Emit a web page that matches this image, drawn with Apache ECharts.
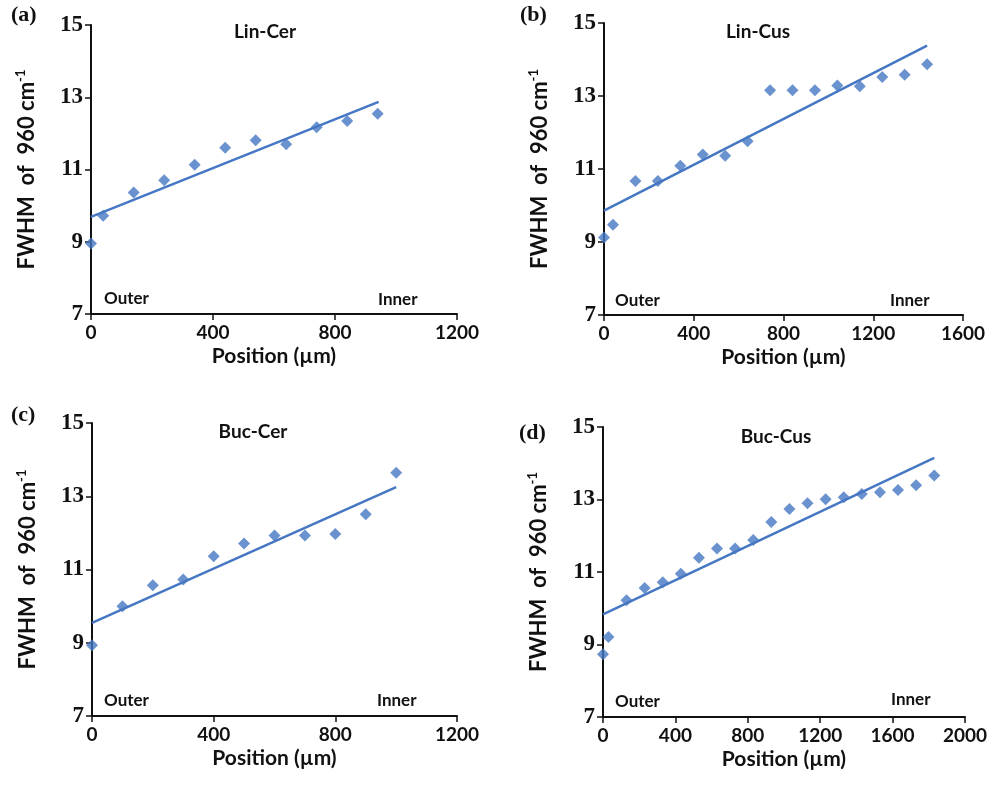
<!DOCTYPE html>
<html>
<head>
<meta charset="utf-8">
<script src="https://cdn.jsdelivr.net/npm/echarts@6/dist/echarts.min.js"></script>
<style>
  html, body { margin: 0; padding: 0; background: #fff; }
  #chart { width: 997px; height: 796px; }
</style>
</head>
<body>
<div id="chart"></div>
<script>
// Panel (a) Lin-Cer
const posA = [0, 40, 140, 240, 340, 440, 540, 640, 740, 840, 940];
const fwhmA = [8.95, 9.72, 10.36, 10.70, 11.13, 11.60, 11.81, 11.70, 12.17, 12.34, 12.54];
const trendPosA = [0, 943];
const trendFwhmA = [9.69, 12.87];

// Panel (b) Lin-Cus
const posB = [0, 40, 140, 240, 340, 440, 540, 640, 740, 840, 940, 1040, 1140, 1240, 1340, 1440];
const fwhmB = [9.12, 9.47, 10.67, 10.67, 11.09, 11.40, 11.36, 11.76, 13.16, 13.16, 13.16, 13.29, 13.27, 13.52, 13.58, 13.87];
const trendPosB = [0, 1440];
const trendFwhmB = [9.86, 14.38];

// Panel (c) Buc-Cer
const posC = [0, 100, 200, 300, 400, 500, 600, 700, 800, 900, 1000];
const fwhmC = [8.93, 10.00, 10.57, 10.73, 11.36, 11.71, 11.93, 11.93, 11.97, 12.51, 13.64];
const trendPosC = [0, 1000];
const trendFwhmC = [9.54, 13.25];

// Panel (d) Buc-Cus
const posD = [0, 30, 130, 230, 330, 430, 530, 630, 730, 830, 930, 1030, 1130, 1230, 1330, 1430, 1530, 1630, 1730, 1830];
const fwhmD = [8.73, 9.21, 10.22, 10.56, 10.72, 10.95, 11.39, 11.65, 11.65, 11.88, 12.38, 12.74, 12.90, 13.01, 13.06, 13.15, 13.20, 13.26, 13.39, 13.66];
const trendPosD = [0, 1830];
const trendFwhmD = [9.83, 14.15];

// Axis ranges
const yMin = 7, yMax = 15, yStep = 2;
const xMaxes = [1200, 1600, 1200, 2000];
const xStep = 400;

const panelTags = ['(a)', '(b)', '(c)', '(d)'];
const panelNames = ['Lin-Cer', 'Lin-Cus', 'Buc-Cer', 'Buc-Cus'];

const BLUE = '#4577c2';
const SANS = 'Lato, "Open Sans", sans-serif';
const SERIF = '"Liberation Serif", "DejaVu Serif", serif';

const panels = [
  { pos: posA, val: fwhmA, tp: trendPosA, tv: trendFwhmA },
  { pos: posB, val: fwhmB, tp: trendPosB, tv: trendFwhmB },
  { pos: posC, val: fwhmC, tp: trendPosC, tv: trendFwhmC },
  { pos: posD, val: fwhmD, tp: trendPosD, tv: trendFwhmD }
];

// Plot areas (left, top, width, height)
const grids = [
  { left: 91, top: 25, width: 366, height: 289 },
  { left: 604, top: 23, width: 359, height: 292 },
  { left: 92, top: 423, width: 365, height: 293 },
  { left: 603, top: 427, width: 362, height: 290 }
];

const zip = (xs, ys) => xs.map((x, i) => [x, ys[i]]);

const axisLine = { show: true, lineStyle: { color: '#111', width: 2 } };
const axisTick = { show: true, inside: false, length: 6, lineStyle: { color: '#111', width: 1.5 } };

const xAxes = grids.map((g, i) => ({
  type: 'value', gridIndex: i, min: 0, max: xMaxes[i], interval: xStep,
  splitLine: { show: false }, axisLine, axisTick,
  axisLabel: { color: '#111', fontFamily: SANS, fontWeight: 'bold', fontSize: 19, margin: 9,
    formatter: v => String(v) },
  name: 'Position (\u00b5m)', nameLocation: 'middle', nameGap: 32,
  nameTextStyle: { color: '#111', fontFamily: SANS, fontWeight: 'bold', fontSize: 21 }
}));

const yAxes = grids.map((g, i) => ({
  type: 'value', gridIndex: i, min: yMin, max: yMax, interval: yStep,
  splitLine: { show: false }, axisLine, axisTick,
  axisLabel: { color: '#111', fontFamily: SERIF, fontWeight: 'bold', fontSize: 23, margin: 8 },
  name: 'FWHM  of  960 cm{sup|-1}', nameLocation: 'middle', nameGap: 52, nameRotate: 90,
  nameTextStyle: {
    color: '#111', fontFamily: SANS, fontWeight: 'bold', fontSize: 22,
    rich: { sup: { fontFamily: SANS, fontWeight: 'bold', fontSize: 13, color: '#111', padding: [0, 0, 12, 0] } }
  }
}));

const series = [];
panels.forEach((p, i) => {
  series.push({
    type: 'line', xAxisIndex: i, yAxisIndex: i, data: zip(p.tp, p.tv),
    showSymbol: false, symbol: 'none', silent: true,
    lineStyle: { color: BLUE, width: 2.5 }, z: 2
  });
  series.push({
    type: 'scatter', xAxisIndex: i, yAxisIndex: i, data: zip(p.pos, p.val),
    symbol: 'diamond', symbolSize: 12, itemStyle: { color: BLUE }, z: 3
  });
});

// Text annotations
const tagPos = [[11, 15], [520, 15], [11, 415], [519, 433]];
const namePos = [[265, 32], [758, 32], [253, 432], [776, 437]];
const outerPos = [[104, 299], [615, 301], [104, 701], [615, 702]];
const innerPos = [[378, 300], [890, 301], [377, 701], [891, 700]];

const graphic = [];
for (let i = 0; i < 4; i++) {
  graphic.push({ type: 'text', x: tagPos[i][0], y: tagPos[i][1],
    style: { text: panelTags[i], font: 'bold 22px ' + SERIF, fill: '#111', align: 'left', verticalAlign: 'middle' } });
  graphic.push({ type: 'text', x: namePos[i][0], y: namePos[i][1],
    style: { text: panelNames[i], font: 'bold 19px ' + SANS, fill: '#111', align: 'center', verticalAlign: 'middle' } });
  graphic.push({ type: 'text', x: outerPos[i][0], y: outerPos[i][1],
    style: { text: 'Outer', font: 'bold 17px ' + SANS, fill: '#111', align: 'left', verticalAlign: 'middle' } });
  graphic.push({ type: 'text', x: innerPos[i][0], y: innerPos[i][1],
    style: { text: 'Inner', font: 'bold 17px ' + SANS, fill: '#111', align: 'left', verticalAlign: 'middle' } });
}

const chart = echarts.init(document.getElementById('chart'), null, { renderer: 'canvas' });
chart.setOption({
  backgroundColor: '#fff',
  animation: false,
  grid: grids.map(g => Object.assign({ containLabel: false }, g)),
  xAxis: xAxes,
  yAxis: yAxes,
  series,
  graphic
});
</script>
</body>
</html>
